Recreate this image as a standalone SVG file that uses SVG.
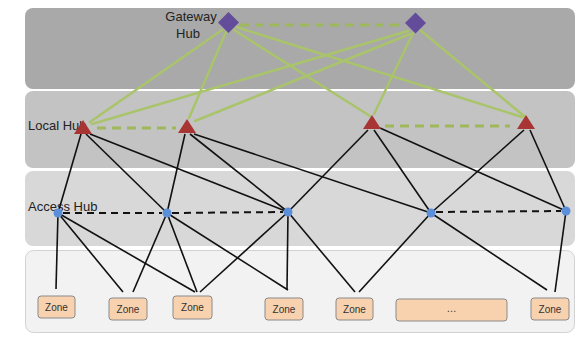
<svg xmlns="http://www.w3.org/2000/svg" width="577" height="340" viewBox="0 0 577 340">
<style>
.band{stroke:none}
.lbl{font-family:"Liberation Sans",Arial,sans-serif;font-size:13px;fill:#222}
.zt{font-family:"Liberation Sans",Arial,sans-serif;font-size:10px;fill:#333;text-anchor:middle}
.zone{fill:#f8d2ae;stroke:#8a8a8a;stroke-width:1}
.g{stroke:#a9c46a;stroke-width:2.5;fill:none;stroke-linecap:round}
.gd{stroke:#9fb85a;stroke-width:3;fill:none;stroke-dasharray:9 6}
.k{stroke:#111;stroke-width:1.6;fill:none}
.kd{stroke:#111;stroke-width:2;fill:none;stroke-dasharray:7 5}
.gw{fill:#634c99}
.lh{fill:#a83434}
.ah{fill:#5b8fd9}
</style>
<rect width="577" height="340" fill="#ffffff"/>
<g id="layers">
<rect class="band" x="25" y="8" width="550" height="81" rx="8" fill="#a9a9a9"/>
<rect class="band" x="25" y="91" width="550" height="77" rx="8" fill="#c3c3c3"/>
<rect class="band" x="25" y="171" width="550" height="75" rx="8" fill="#d8d8d8"/>
<rect x="25.5" y="250.5" width="549" height="82" rx="8" fill="#f2f2f2" stroke="#d2d2d2"/>
</g>
<g id="labels">
<text class="lbl" x="191" y="21" text-anchor="middle">Gateway</text>
<text class="lbl" x="188" y="38" text-anchor="middle">Hub</text>
<text class="lbl" x="28" y="130">Local Hub</text>
<text class="lbl" x="28" y="211">Access Hub</text>
</g>
<g id="connectors">
<line class="gd" x1="240" y1="25" x2="404" y2="25"/>
<line class="gd" x1="97" y1="128" x2="176" y2="128"/>
<line class="gd" x1="385" y1="126" x2="510" y2="126"/>
<line class="g" x1="222" y1="30" x2="90" y2="122"/>
<line class="g" x1="226" y1="32" x2="189" y2="118"/>
<line class="g" x1="234" y1="30" x2="370" y2="116"/>
<line class="g" x1="236" y1="27" x2="522" y2="117"/>
<line class="g" x1="408" y1="31" x2="92" y2="124"/>
<line class="g" x1="410" y1="34" x2="195" y2="121"/>
<line class="g" x1="413" y1="33" x2="374" y2="114"/>
<line class="g" x1="420" y1="30" x2="524" y2="116"/>
<line class="k" x1="81" y1="134" x2="58" y2="213"/>
<line class="k" x1="86" y1="134" x2="167" y2="213"/>
<line class="k" x1="90" y1="134" x2="288" y2="212"/>
<line class="k" x1="185" y1="134" x2="167" y2="213"/>
<line class="k" x1="190" y1="134" x2="288" y2="212"/>
<line class="k" x1="194" y1="134" x2="431" y2="213"/>
<line class="k" x1="368" y1="130" x2="288" y2="212"/>
<line class="k" x1="374" y1="130" x2="431" y2="213"/>
<line class="k" x1="380" y1="128" x2="566" y2="211"/>
<line class="k" x1="524" y1="130" x2="431" y2="213"/>
<line class="k" x1="530" y1="130" x2="566" y2="211"/>
<line class="kd" x1="63" y1="213" x2="162" y2="213"/>
<line class="kd" x1="172" y1="213" x2="283" y2="212"/>
<line class="kd" x1="436" y1="212" x2="561" y2="211"/>
<line class="k" x1="58" y1="213" x2="56" y2="289"/>
<line class="k" x1="58" y1="213" x2="123" y2="292"/>
<line class="k" x1="58" y1="213" x2="195" y2="292"/>
<line class="k" x1="167" y1="213" x2="133" y2="292"/>
<line class="k" x1="167" y1="213" x2="197" y2="292"/>
<line class="k" x1="167" y1="213" x2="288" y2="290"/>
<line class="k" x1="288" y1="212" x2="200" y2="292"/>
<line class="k" x1="288" y1="212" x2="287" y2="290"/>
<line class="k" x1="288" y1="212" x2="355" y2="292"/>
<line class="k" x1="431" y1="213" x2="359" y2="292"/>
<line class="k" x1="431" y1="213" x2="547" y2="290"/>
<line class="k" x1="566" y1="211" x2="555" y2="292"/>
</g>
<g id="gateway1"><polygon class="gw" points="228.5,12 239,22.5 228.5,33 218,22.5"/></g>
<g id="gateway2"><polygon class="gw" points="415.5,12.5 426,23 415.5,33.5 405,23"/></g>
<g id="local1"><polygon class="lh" points="83,120 92,134 74,134"/></g>
<g id="local2"><polygon class="lh" points="187,119 196,133 178,133"/></g>
<g id="local3"><polygon class="lh" points="372,115 381,129 363,129"/></g>
<g id="local4"><polygon class="lh" points="526,115 535,129 517,129"/></g>
<g id="access1"><circle class="ah" cx="58" cy="213" r="4.5"/></g>
<g id="access2"><circle class="ah" cx="167" cy="213" r="4.5"/></g>
<g id="access3"><circle class="ah" cx="288" cy="212" r="4.5"/></g>
<g id="access4"><circle class="ah" cx="431" cy="213" r="4.5"/></g>
<g id="access5"><circle class="ah" cx="566" cy="211" r="4.5"/></g>
<g id="zone1"><rect class="zone" x="38" y="296" width="37" height="22" rx="3"/><text class="zt" x="56.5" y="310.5">Zone</text></g>
<g id="zone2"><rect class="zone" x="109" y="298" width="38" height="22" rx="3"/><text class="zt" x="128" y="312.5">Zone</text></g>
<g id="zone3"><rect class="zone" x="173" y="296" width="39" height="23" rx="3"/><text class="zt" x="192.5" y="311">Zone</text></g>
<g id="zone4"><rect class="zone" x="265" y="298" width="38" height="22" rx="3"/><text class="zt" x="284" y="312.5">Zone</text></g>
<g id="zone5"><rect class="zone" x="336" y="298" width="37" height="22" rx="3"/><text class="zt" x="354.5" y="312.5">Zone</text></g>
<g id="zone-more"><rect class="zone" x="396" y="299" width="111" height="22" rx="3"/><text class="zt" x="451.5" y="312">…</text></g>
<g id="zone6"><rect class="zone" x="531" y="298" width="38" height="22" rx="3"/><text class="zt" x="550" y="312.5">Zone</text></g>
</svg>
